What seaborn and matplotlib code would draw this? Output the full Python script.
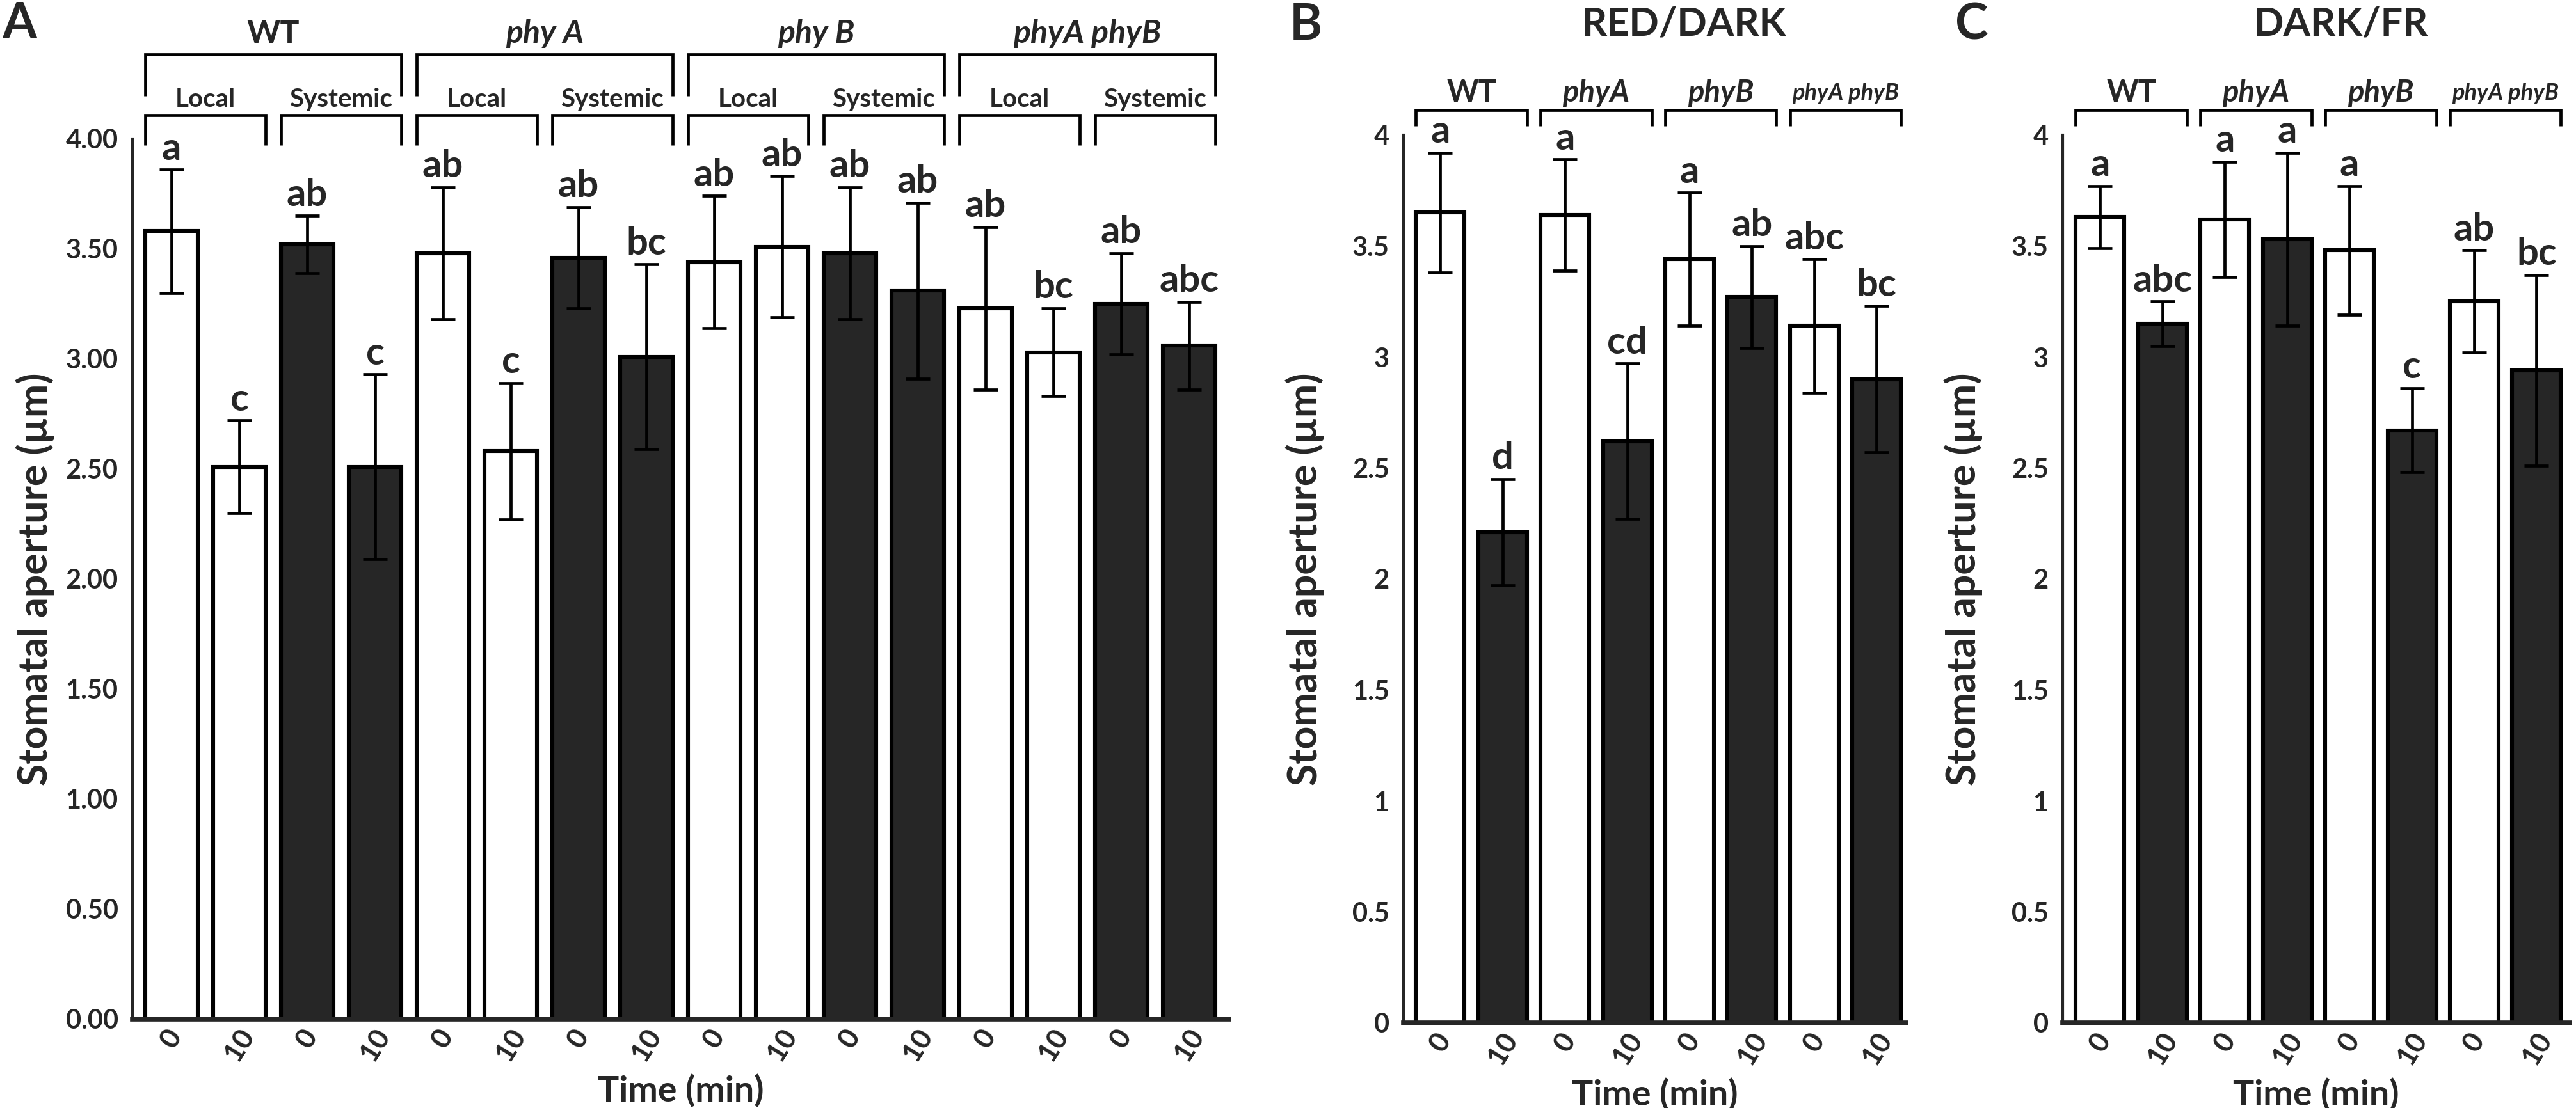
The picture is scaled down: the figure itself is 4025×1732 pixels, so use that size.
import pandas as pd
import seaborn as sns
import matplotlib.pyplot as plt
from matplotlib.ticker import FuncFormatter

sns.set_theme(style='white')
plt.rcParams['font.family'] = ['Lato', 'DejaVu Sans']
plt.rcParams['font.weight'] = 'bold'

# ---- data ----
times = ['0', '10']

# A: local / systemic response
a_means = [3.58, 2.51, 3.52, 2.51, 3.48, 2.58, 3.46, 3.01,
           3.44, 3.51, 3.48, 3.31, 3.23, 3.03, 3.25, 3.06]
a_errs = [0.28, 0.21, 0.13, 0.42, 0.30, 0.31, 0.23, 0.42,
          0.30, 0.32, 0.30, 0.40, 0.37, 0.20, 0.23, 0.20]
a_letters = ['a', 'c', 'ab', 'c', 'ab', 'c', 'ab', 'bc',
             'ab', 'ab', 'ab', 'ab', 'ab', 'bc', 'ab', 'abc']
a_genotypes = ['WT', 'phy A', 'phy B', 'phyA phyB']
a_tissues = ['Local', 'Systemic']

# B: RED/DARK
b_means = [3.65, 2.21, 3.64, 2.62, 3.44, 3.27, 3.14, 2.90]
b_errs = [0.27, 0.24, 0.25, 0.35, 0.30, 0.23, 0.30, 0.33]
b_letters = ['a', 'd', 'a', 'cd', 'a', 'ab', 'abc', 'bc']

# C: DARK/FR
c_means = [3.63, 3.15, 3.62, 3.53, 3.48, 2.67, 3.25, 2.94]
c_errs = [0.14, 0.10, 0.26, 0.39, 0.29, 0.19, 0.23, 0.43]
c_letters = ['a', 'abc', 'a', 'a', 'a', 'c', 'ab', 'bc']

bc_genotypes = ['WT', 'phyA', 'phyB', 'phyA phyB']

W, H = 4025, 1732
DARK = '#262626'
LW = 3.4


def fx(px):
    return px / W


def fy(py):
    return 1 - py / H


def bracket(ax, x0, x1, ytop, ybot):
    ax.plot([x0, x0, x1, x1], [ybot, ytop, ytop, ybot], color='black',
            lw=LW, clip_on=False, solid_joinstyle='miter', solid_capstyle='butt')


def bars(ax, means, errs, letters, fills, xlim, ytickfmt):
    n = len(means)
    df = pd.DataFrame({'slot': [str(i) for i in range(n)], 'val': means})
    pal = {str(i): fills[i] for i in range(n)}
    sns.barplot(data=df, x='slot', y='val', hue='slot', palette=pal, legend=False,
                order=df['slot'], hue_order=df['slot'], width=0.78,
                edgecolor='black', linewidth=4.4, errorbar=None, ax=ax, zorder=2)
    ax.errorbar(range(n), means, yerr=errs, fmt='none', ecolor='black',
                elinewidth=3.4, capsize=14, capthick=3.4, zorder=3)
    for i in range(n):
        ax.text(i, means[i] + errs[i] + 0.045, letters[i], ha='center', va='baseline',
                fontsize=43, fontweight='bold')
    ax.set_xlim(*xlim)
    ax.set_ylim(0, 4)
    ax.set_yticks([k * 0.5 for k in range(9)])
    ax.yaxis.set_major_formatter(FuncFormatter(ytickfmt))
    ax.set_xticks(range(n))
    ax.set_xticklabels([times[i % 2] for i in range(n)], rotation=58,
                       ha='center', fontsize=32, fontweight='bold')
    ax.tick_params(axis='y', direction='out', length=10, width=3, labelsize=30, pad=6)
    ax.tick_params(axis='x', length=0, pad=6)
    sns.despine(ax=ax)
    ax.spines['left'].set_linewidth(3)
    ax.spines['bottom'].set_linewidth(5.5)
    ax.set_xlabel('Time (min)', fontsize=40, fontweight='bold')
    ax.set_ylabel('Stomatal aperture (µm)', fontsize=45, fontweight='bold')
    ax.xaxis.set_label_coords(0.5, -0.062)


fig = plt.figure(figsize=(W / 100, H / 100), dpi=100)
axA = fig.add_axes([fx(207), fy(1593), fx(1920 - 207), (1593 - 217) / H])
axB = fig.add_axes([fx(2193), fy(1599), fx(2978 - 2193), (1599 - 211) / H])
axC = fig.add_axes([fx(3223), fy(1599), fx(4015 - 3223), (1599 - 211) / H])

fillsA = ['white', 'white', DARK, DARK] * 4
fillsBC = ['white', DARK] * 4

bars(axA, a_means, a_errs, a_letters, fillsA, (-0.575, 15.585), lambda v, p: f'{v:.2f}')
bars(axB, b_means, b_errs, b_letters, fillsBC, (-0.59, 7.47), lambda v, p: f'{v:g}')
bars(axC, c_means, c_errs, c_letters, fillsBC, (-0.60, 7.53), lambda v, p: f'{v:g}')

axA.yaxis.set_label_coords(-0.071, 0.5)
axB.yaxis.set_label_coords(-0.158, 0.5)
axC.yaxis.set_label_coords(-0.158, 0.5)

# panel A brackets: genotype over 4 bars, tissue over 2 bars
hw = 0.39
for g, name in enumerate(a_genotypes):
    x0, x1 = 4 * g - hw, 4 * g + 3 + hw
    bracket(axA, x0, x1, 4.384, 4.195)
    style = 'normal' if name == 'WT' else 'italic'
    axA.text((x0 + x1) / 2, 4.477, name, ha='center', va='center', fontsize=36,
             fontweight='bold', style=style, clip_on=False)
    for t, tissue in enumerate(a_tissues):
        s0, s1 = 4 * g + 2 * t - hw, 4 * g + 2 * t + 1 + hw
        bracket(axA, s0, s1, 4.108, 3.971)
        axA.text((s0 + s1) / 2, 4.18, tissue, ha='center', va='center', fontsize=29,
                 fontweight='bold', clip_on=False)

# panels B and C brackets
for ax in (axB, axC):
    for g, name in enumerate(bc_genotypes):
        x0, x1 = 2 * g - hw, 2 * g + 1 + hw
        bracket(ax, x0, x1, 4.112, 4.040)
        style = 'normal' if name == 'WT' else 'italic'
        size = 26 if ' ' in name else 34
        ax.text((x0 + x1) / 2, 4.19, name, ha='center', va='center', fontsize=size,
                fontweight='bold', style=style, clip_on=False)

fig.text(fx(30), fy(38), 'A', ha='center', va='center', fontsize=56, fontweight='bold')
fig.text(fx(2040), fy(40), 'B', ha='center', va='center', fontsize=56, fontweight='bold')
fig.text(fx(3081), fy(40), 'C', ha='center', va='center', fontsize=56, fontweight='bold')
fig.text(fx(2631), fy(38), 'RED/DARK', ha='center', va='center', fontsize=44, fontweight='bold')
fig.text(fx(3657), fy(38), 'DARK/FR', ha='center', va='center', fontsize=44, fontweight='bold')

fig.savefig('out.png', dpi=100, facecolor='white')
